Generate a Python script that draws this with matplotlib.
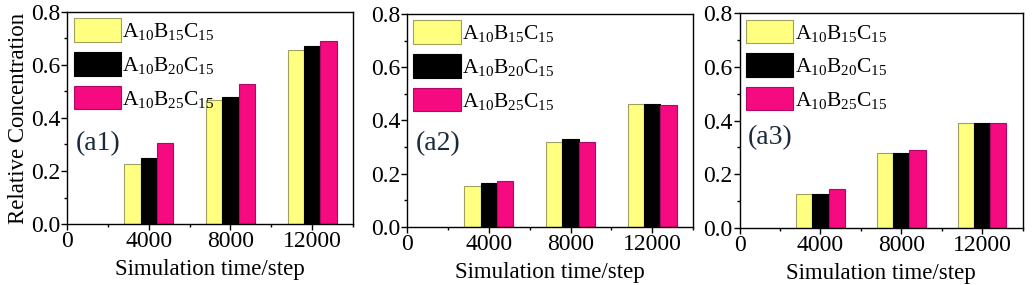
import numpy as np
import matplotlib
matplotlib.use('Agg')
import matplotlib.pyplot as plt
from matplotlib.ticker import MultipleLocator

plt.rcParams['font.family'] = 'Liberation Serif'
plt.rcParams['mathtext.fontset'] = 'custom'
plt.rcParams['mathtext.rm'] = 'Liberation Serif'

steps = [4000, 8000, 12000]
labels = [r'$\mathrm{A_{10}B_{15}C_{15}}$',
          r'$\mathrm{A_{10}B_{20}C_{15}}$',
          r'$\mathrm{A_{10}B_{25}C_{15}}$']
colors = ['#FFFF80', '#000000', '#F50A7F']
edges = ['#A0A060', '#000000', '#B0086A']

# panel (a1)
a1_b15 = [0.225, 0.468, 0.657]
a1_b20 = [0.249, 0.481, 0.670]
a1_b25 = [0.307, 0.529, 0.689]
# panel (a2)
a2_b15 = [0.153, 0.318, 0.460]
a2_b20 = [0.164, 0.332, 0.460]
a2_b25 = [0.173, 0.318, 0.457]
# panel (a3)
a3_b15 = [0.126, 0.280, 0.390]
a3_b20 = [0.127, 0.280, 0.390]
a3_b25 = [0.145, 0.289, 0.392]

panels = [('(a1)', [a1_b15, a1_b20, a1_b25]),
          ('(a2)', [a2_b15, a2_b20, a2_b25]),
          ('(a3)', [a3_b15, a3_b20, a3_b25])]
boxes = [[0.0649, 0.214, 0.2768, 0.744],
         [0.394, 0.204, 0.277, 0.747],
         [0.716, 0.200, 0.274, 0.754]]
tag_y = [0.38, 0.39, 0.42]

fig = plt.figure(figsize=(10.33, 2.85), dpi=100)
w = 800
x = np.array(steps)
for i, (tag, series) in enumerate(panels):
    ax = fig.add_axes(boxes[i])
    for k, vals in enumerate(series):
        ax.bar(x + (k - 1) * w, vals, width=w, color=colors[k],
               edgecolor=edges[k], linewidth=0.8, label=labels[k])
    ax.set_xlim(0, 14000)
    ax.set_ylim(0, 0.8)
    ax.set_xticks([0, 4000, 8000, 12000])
    ax.xaxis.set_minor_locator(MultipleLocator(2000))
    ax.set_yticks([0.0, 0.2, 0.4, 0.6, 0.8])
    ax.set_yticklabels(['0.0', '0.2', '0.4', '0.6', '0.8'])
    ax.yaxis.set_minor_locator(MultipleLocator(0.1))
    ax.tick_params(which='major', direction='out', length=4, width=1, labelsize=17, pad=1)
    ax.tick_params(which='minor', direction='out', length=2, width=1)
    for s in ax.spines.values():
        s.set_linewidth(1)
    ax.set_xlabel('Simulation time/step', fontsize=16.5, labelpad=5)
    if i == 0:
        ax.set_ylabel('Relative Concentration', fontsize=16.5, labelpad=1)
    ax.legend(loc='upper left', frameon=False, fontsize=15.5,
              handlelength=2.2, handleheight=1.3, handletextpad=0.05,
              labelspacing=0.45, borderaxespad=0.15, borderpad=0.15)
    ax.text(0.03, tag_y[i], tag, transform=ax.transAxes, fontsize=20,
            ha='left', va='center', color='#1a2a3a')

fig.savefig('out.png', dpi=100)
